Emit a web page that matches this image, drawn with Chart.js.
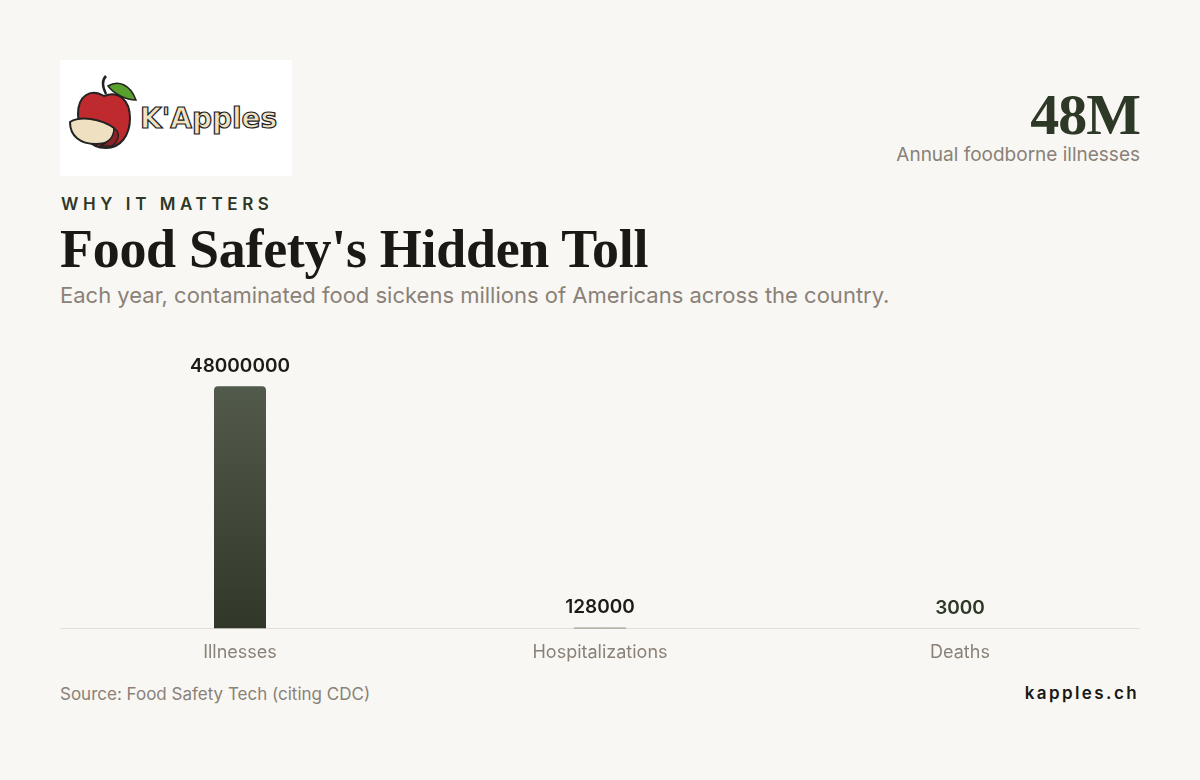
<!DOCTYPE html>
<html>
<head>
<meta charset="utf-8">
<script src="https://cdn.jsdelivr.net/npm/chart.js@4"></script>
<style>
  html, body { margin: 0; padding: 0; }
  body {
    width: 1200px; height: 780px; background: #f8f7f3; position: relative;
    font-family: Inter, "Noto Sans", sans-serif; overflow: hidden;
  }
  .logo {
    position: absolute; left: 60px; top: 60px; width: 232px; height: 116px; background: #ffffff;
  }
  .big {
    position: absolute; right: 60px; top: 81px; font-family: "Liberation Serif", serif;
    font-weight: 700; font-size: 58px; color: #2d3826; letter-spacing: -1px;
  }
  .big-sub {
    position: absolute; right: 60px; top: 143px; font-size: 19px; color: #8a8178;
  }
  .kicker {
    position: absolute; left: 61px; top: 194px; font-size: 17px; font-weight: 600;
    letter-spacing: 4.6px; color: #2d3826;
  }
  .title {
    position: absolute; left: 60px; top: 218px; font-family: "Liberation Serif", serif;
    font-weight: 700; font-size: 54px; color: #1a1916; letter-spacing: -0.3px;
  }
  .subtitle {
    position: absolute; left: 60px; top: 282px; font-size: 22px; color: #8a8178;
  }
  .chart-box { position: absolute; left: 60px; top: 330px; width: 1080px; height: 338px; }
  .source { position: absolute; left: 60px; top: 684px; font-size: 17px; color: #8a8178; }
  .brand {
    position: absolute; right: 61px; top: 683px; font-size: 17px; font-weight: 600;
    letter-spacing: 2.4px; color: #1a1916;
  }
</style>
</head>
<body>
<div class="logo">
  <svg width="232" height="116" viewBox="0 0 232 116">
    <path d="M46 34 C42 26 42 20 46 16" stroke="#222" stroke-width="2.5" fill="none"/>
    <path d="M48 26 C58 20 70 24 76 40 C66 40 54 34 48 26 Z" fill="#5aa02c" stroke="#222" stroke-width="1.5"/>
    <path d="M44 36 C30 28 18 36 18 54 C18 74 30 88 46 88 C60 88 70 76 70 58 C70 40 58 30 44 36 Z" fill="#bf2a2e" stroke="#222" stroke-width="2"/>
    <path d="M10 62 C20 56 40 58 54 68 C56 80 46 84 36 84 C20 84 10 76 10 62 Z" fill="#eee0c0" stroke="#222" stroke-width="2"/>
    <path d="M54 68 C60 72 60 80 52 86 L40 86 C48 82 54 78 54 68 Z" fill="#8a2428" stroke="#222" stroke-width="1.5"/>
    <text x="80" y="68" font-family="DejaVu Sans" font-weight="700" font-size="28" fill="#efe3c4" stroke="#222" stroke-width="1.2">K'Apples</text>
  </svg>
</div>
<div class="big">48M</div>
<div class="big-sub">Annual foodborne illnesses</div>
<div class="kicker">WHY IT MATTERS</div>
<div class="title">Food Safety's Hidden Toll</div>
<div class="subtitle">Each year, contaminated food sickens millions of Americans across the country.</div>
<div class="chart-box"><canvas id="chartToll"></canvas></div>
<div class="source">Source: Food Safety Tech (citing CDC)</div>
<div class="brand">kapples.ch</div>

<script>
const categories = ['Illnesses', 'Hospitalizations', 'Deaths'];
const cases = [48000000, 128000, 3000];
const labelColors = ['#1c1b18', '#1c1b18', '#2d3826'];

// etykiety z wartościami nad słupkami
const valueLabels = {
    id: 'valueLabels',
    afterDatasetsDraw(chart) {
        const { ctx } = chart;
        const meta = chart.getDatasetMeta(0);
        ctx.save();
        ctx.font = '600 19px Inter, sans-serif';
        ctx.textAlign = 'center';
        ctx.textBaseline = 'bottom';
        meta.data.forEach((bar, i) => {
            ctx.fillStyle = labelColors[i];
            ctx.fillText(String(cases[i]), bar.x, bar.y - 11);
        });
        ctx.restore();
    },
};

function barGradient(context) {
    const { chart } = context;
    const area = chart.chartArea;
    if (!area) return '#3f4637';
    const top = chart.scales.y.getPixelForValue(cases[0]);
    const g = chart.ctx.createLinearGradient(0, top, 0, area.bottom);
    g.addColorStop(0, '#525a4b');
    g.addColorStop(1, '#323829');
    return g;
}

new Chart(document.getElementById('chartToll'), {
    type: 'bar',
    data: {
        labels: categories,
        datasets: [{
            data: cases,
            backgroundColor: barGradient,
            borderRadius: { topLeft: 4, topRight: 4 },
            borderSkipped: 'bottom',
            inflateAmount: 0,
            barThickness: 52,
        }],
    },
    options: {
        responsive: true,
        maintainAspectRatio: false,
        animation: false,
        layout: { padding: { top: 16 } },
        scales: {
            x: {
                grid: { display: false },
                border: { color: '#e6ded5', width: 1 },
                ticks: { color: '#8a8178', font: { family: 'Inter', size: 18 }, padding: 5 },
            },
            y: {
                display: false,
                min: 0,
                max: 56000000,
            },
        },
        plugins: { legend: { display: false }, tooltip: { enabled: false } },
    },
    plugins: [valueLabels],
});
</script>
</body>
</html>
